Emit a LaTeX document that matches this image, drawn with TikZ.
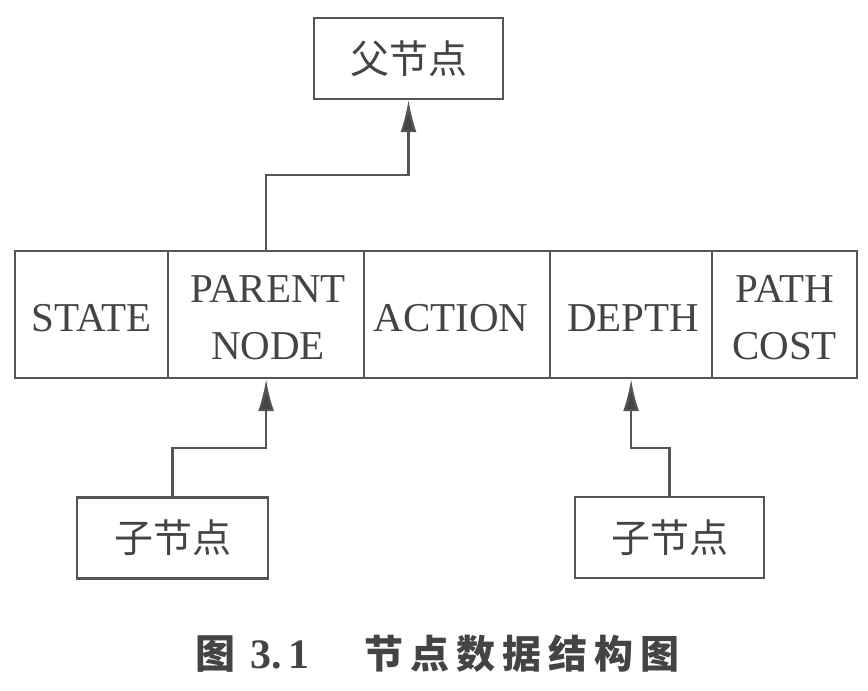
\documentclass[tikz,border=0pt]{standalone}
\usepackage{fontspec}
\setmainfont{Liberation Serif}
\newfontfamily\cjk{Noto Sans CJK SC}
\usetikzlibrary{arrows.meta,calc}
\definecolor{ln}{HTML}{555555}
\definecolor{tx}{HTML}{444444}
\begin{document}
\begin{tikzpicture}[x=1pt,y=-1pt,
  cell/.style={draw=ln,line width=2.2pt,minimum height=127pt,inner sep=0pt,anchor=north west},
  celltext/.style={text=tx,font=\fontsize{41}{57}\selectfont,align=center,inner sep=0pt},
  cnbox/.style={draw=ln,line width=2.2pt,minimum width=190pt,minimum height=81pt,inner sep=0pt,
    text=tx,font=\cjk\fontsize{39}{42}\selectfont},
  arr/.style={draw=ln,line width=2.2pt,-{Latex[length=32pt,width=16pt,fill=ln!80!black]}}]
\useasboundingbox (0,0) rectangle (868,691);
% parent
\node[cnbox,minimum width=189pt] (par) at (408.5,58.5) {父节点};
% row
\node[cell,minimum width=153pt] (st) at (14,250) {};
\node[cell,minimum width=196pt] (pn) at (167,250) {};
\node[cell,minimum width=186pt] (ac) at (363,250) {};
\node[cell,minimum width=162pt] (de) at (549,250) {};
\node[cell,minimum width=145pt] (pc) at (711,250) {};
\node[celltext] (stt) at ($(st.center)+(0,4)$) {STATE};
\node[celltext] (pnt) at ($(pn.center)+(2,3)$) {PARENT\\NODE};
\node[celltext] (act) at ($(ac.center)+(-6,4)$) {ACTION};
\node[celltext] (det) at ($(de.center)+(2,4)$) {DEPTH};
\node[celltext] (pct) at ($(pc.center)+(0,3)$) {PATH\\COST};
% children
\node[cnbox,minimum width=191pt] (c1) at (172.5,538) {子节点};
\node[cnbox,minimum width=189pt] (c2) at (669.5,537.5) {子节点};
% connectors
\draw[arr] (pn.north) -- (pn.north |- 0,175) -| (par.south);
\draw[arr] (c1.north) -- (c1.north |- 0,448) -| (pn.south);
\draw[arr] (c2.north) -- (c2.north |- 0,448) -| (de.south);
% caption
\node[text=tx,font=\cjk\bfseries\fontsize{40}{44}\selectfont] (cap1) at (215,654) {图};
\node[text=tx,font=\bfseries\fontsize{42}{46}\selectfont] (cap2) at (280,655) {3.\,1};
\node[text=tx,font=\cjk\bfseries\fontsize{39}{42}\selectfont] (cap3) at (522,654)
  {节\hspace{7pt}点\hspace{7pt}数\hspace{7pt}据\hspace{7pt}结\hspace{7pt}构\hspace{7pt}图};
\end{tikzpicture}
\end{document}
